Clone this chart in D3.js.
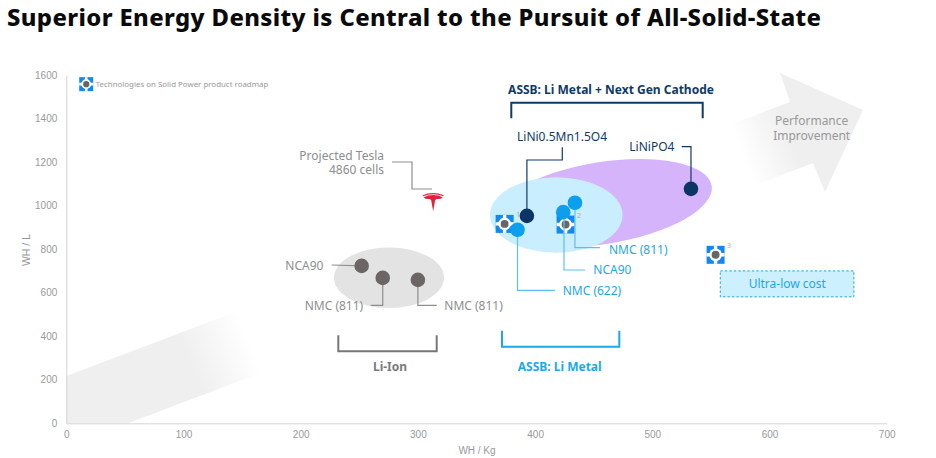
<!DOCTYPE html>
<html>
<head>
	<title>Superior Energy Density</title>
	<script src="https://cdn.jsdelivr.net/npm/d3@7"></script>
</head>
<style type="text/css">
body { margin: 0; background-color: #fff; }
svg { display: block; }
.axis path, .axis line { stroke: #d4d4d4; }
.axis text { font-family: "Liberation Sans", Arial, sans-serif; font-size: 10px; fill: #999; }
</style>
<body>
</body>
</html>
<script type="text/javascript">
	var xTicks = [0, 100, 200, 300, 400, 500, 600, 700];
	var yTicks = [0, 200, 400, 600, 800, 1000, 1200, 1400, 1600];

	// WH/Kg and WH/L
	var liIonX = [252, 270, 300];
	var liIonY = [723, 668, 659];
	var liMetalX = [385, 424, 434];
	var liMetalY = [889, 970, 1013];
	var nextGenNames = ["LiNi0.5Mn1.5O4", "LiNiPO4"];
	var nextGenX = [393, 533];
	var nextGenY = [953, 1077];
	var roadmapX = [374, 426, 554];
	var roadmapY = [916, 913, 774];
	var roadmapNotes = ["1", "2", "3"];
	var teslaX = [313];
	var teslaY = [1025];

	var w = 936;
	var h = 458;
	var margin = {top:75,left:66.3,right:49.3,bottom:34.7};
	var font = "'Noto Sans', sans-serif";
	var grey = "#8e8e8e", navy = "#0f3a68", blue = "#1ea7e8";

	var svg = d3.select("body").append("svg").attr("width", w).attr("height", h);

	var x = d3.scaleLinear().domain([0,700]).range([margin.left,w-margin.right]);
	var y = d3.scaleLinear().domain([0,1600]).range([h-margin.bottom,margin.top]);

	// big arrow behind everything, fades out in the middle
	var grad = svg.append("defs").append("linearGradient").attr("id", "fade")
		.attr("gradientUnits", "userSpaceOnUse")
		.attr("x1", 66).attr("y1", 400).attr("x2", 863).attr("y2", 87);
	[[0.15,1],[0.225,0],[0.84,0],[0.9,1]].forEach(function(s){
		grad.append("stop").attr("offset", s[0]).attr("stop-color", "#efefef").attr("stop-opacity", s[1]);
	});
	svg.append("path").attr("fill", "url(#fade)")
		.attr("d", "M66.3,376 L790,102 L780,73 L863,110 L825,192 L813,163 L128,423.3 L66.3,423.3 Z");

	svg.append("g").attr("class", "axis").attr("transform", "translate(0," + y(0) + ")")
		.call(d3.axisBottom(x).tickValues(xTicks).tickSize(0).tickPadding(8).tickFormat(d3.format("d")));
	svg.append("g").attr("class", "axis").attr("transform", "translate(" + x(0) + ",0)")
		.call(d3.axisLeft(y).tickValues(yTicks).tickSize(0).tickPadding(9).tickFormat(d3.format("d")));

	function label(txt, px, py, size, color, anchor, weight) {
		return svg.append("text").text(txt).attr("x", px).attr("y", py)
			.attr("dy", "0.35em")
			.attr("font-family", font).attr("font-size", size).attr("fill", color)
			.attr("text-anchor", anchor || "start").attr("font-weight", weight || 400);
	}
	// two line label, one text element
	function label2(first, second, px, py, gap, color, anchor) {
		var t = label(first, px, py, 12, color, anchor).text(null);
		t.append("tspan").attr("x", px).text(first);
		t.append("tspan").attr("x", px).attr("dy", gap).text(second);
	}
	function leader(points, color, width) {
		svg.append("path").attr("fill", "none").attr("stroke", color).attr("stroke-width", width || 1.2)
			.attr("d", d3.line()(points));
	}
	function dots(xs, ys, color) {
		svg.append("g").selectAll("circle").data(xs).enter().append("circle")
			.attr("cx", function(d){return x(d);})
			.attr("cy", function(d,i){return y(ys[i]);})
			.attr("r", 7.3)
			.attr("fill", color);
	}
	// Solid Power mark: blue square split in four, hollow centre, grey dot
	function mark(px, py, s) {
		var g = svg.append("g").attr("transform", "translate(" + px + "," + py + ")");
		g.append("rect").attr("x", -s/2).attr("y", -s/2).attr("width", s).attr("height", s).attr("fill", "#1289f0");
		g.append("path").attr("stroke", "#fff").attr("stroke-width", s*0.19)
			.attr("d", "M0," + (-s/2) + "V" + (s/2) + "M" + (-s/2) + ",0H" + (s/2));
		g.append("circle").attr("r", s*0.35).attr("fill", "#fff");
		g.append("circle").attr("r", s*0.22).attr("fill", "#666");
	}

	// axis titles
	svg.append("text").text("WH / Kg").attr("x", 477).attr("y", 454).attr("text-anchor", "middle")
		.attr("font-family", "'Liberation Sans', sans-serif").attr("font-size", 10).attr("fill", "#999");
	svg.append("text").text("WH / L").attr("transform", "translate(30,250) rotate(-90)").attr("text-anchor", "middle")
		.attr("font-family", "'Liberation Sans', sans-serif").attr("font-size", 10.5).attr("fill", "#999");

	// chart title
	svg.append("text").text("Superior Energy Density is Central to the Pursuit of All-Solid-State")
		.attr("x", 7).attr("y", 25.5).attr("font-family", font).attr("font-size", 23.8).attr("font-weight", 800)
		.attr("fill", "#0a0a0a").attr("textLength", 814).attr("lengthAdjust", "spacing");

	// legend
	mark(x(17), y(1558), 14);
	label("Technologies on Solid Power product roadmap", 95.7, 84.5, 7.9, "#999");

	// family ellipses
	svg.append("ellipse").attr("cx", 603).attr("cy", 203).attr("rx", 110).attr("ry", 41)
		.attr("transform", "rotate(-9 603 203)").attr("fill", "#d5b4fb");
	svg.append("ellipse").attr("cx", 556.3).attr("cy", 215).attr("rx", 66.3).attr("ry", 37.7).attr("fill", "#c8eeff");
	svg.append("ellipse").attr("cx", 389).attr("cy", 277.7).attr("rx", 55).attr("ry", 30.3).attr("fill", "#e3e3e3");

	// roadmap marks and their footnote numbers
	roadmapX.forEach(function(d,i){
		mark(x(d), y(roadmapY[i]), 18);
		label(roadmapNotes[i], x(d)+11.5, y(roadmapY[i])-9, 7, "#aaa");
	});

	// Li-Ion group
	leader([[331.7,265],[x(liIonX[0]),y(liIonY[0])]], grey);
	leader([[370.7,305.3],[x(liIonX[1]),305.3],[x(liIonX[1]),y(liIonY[1])]], grey);
	leader([[x(liIonX[2]),y(liIonY[2])],[x(liIonX[2]),305.3],[436.7,305.3]], grey);
	dots(liIonX, liIonY, "#6b6565");
	label("NCA90", 285.3, 265.7, 12, grey);
	label("NMC (811)", 304.7, 306, 12, grey);
	label("NMC (811)", 444.3, 306, 12, grey);
	leader([[338.3,335.3],[338.3,351.3],[436.7,351.3],[436.7,335.3]], "#777", 2);
	label("Li-Ion", 390, 366.7, 12, "#7a7a7a", "middle", 700);

	// ASSB Li metal group
	leader([[x(liMetalX[0]),y(liMetalY[0])],[x(liMetalX[0]),290.3],[555,290.3]], "#5cc0ee");
	leader([[564,y(liMetalY[1])],[564,270],[585,270]], "#5cc0ee");
	leader([[x(liMetalX[2]),y(liMetalY[2])],[x(liMetalX[2]),247.7],[600,247.7]], "#5cc0ee");
	dots(liMetalX, liMetalY, "#0d9fee");
	label("NMC (811)", 609, 249.3, 12, blue);
	label("NCA90", 593.3, 270, 12, blue);
	label("NMC (622)", 562.7, 290.3, 12, blue);
	leader([[502,330.7],[502,346.7],[619.3,346.7],[619.3,330.7]], blue, 2);
	label("ASSB: Li Metal", 559.7, 366.5, 12, blue, "middle", 700);

	// next gen cathode group
	leader([[562.3,147.3],[562.3,160],[x(nextGenX[0]),160],[x(nextGenX[0]),y(nextGenY[0])]], navy);
	leader([[681.7,146.7],[x(nextGenX[1]),146.7],[x(nextGenX[1]),y(nextGenY[1])]], navy);
	dots(nextGenX, nextGenY, "#0b3565");
	label(nextGenNames[0], 517, 136.7, 12, navy);
	label(nextGenNames[1], 629.3, 146.7, 12, navy);
	leader([[511.3,118.3],[511.3,102.7],[702.7,102.7],[702.7,118.3]], navy, 2);
	label("ASSB: Li Metal + Next Gen Cathode", 611, 89.7, 12, navy, "middle", 700);

	// Tesla
	leader([[392,162],[412,162],[412,189],[432,189]], grey);
	label2("Projected Tesla", "4860 cells", 384, 155.5, 14.5, grey, "end");
	teslaX.forEach(function(d,i){
		svg.append("path").attr("fill", "#e3213c")
			.attr("transform", "translate(" + x(d) + "," + (y(teslaY[i])+1) + ")")
			.attr("d", "M-10.5,-6 Q0,-10.5 10.5,-6 L10.2,-5 Q0,-8.8 -10.2,-5 Z" +
				"M-9.6,-4 Q-5,-6.2 0,-6.2 Q5,-6.2 9.6,-4 Q8,-1.8 3.4,-2.2 L2,-1.2 L0,10 L-2,-1.2 L-3.4,-2.2 Q-8,-1.8 -9.6,-4 Z");
	});

	// arrow caption
	label2("Performance", "Improvement", 811.7, 121, 14.7, "#999", "middle");

	// ultra-low cost box
	svg.append("rect").attr("x", x(558)).attr("y", y(700)).attr("width", x(672)-x(558)).attr("height", y(581)-y(700))
		.attr("fill", "#cdf0ff").attr("stroke", blue).attr("stroke-width", 1).attr("stroke-dasharray", "2.5,2");
	label("Ultra-low cost", 787.3, 283.7, 12, blue, "middle");
</script>
